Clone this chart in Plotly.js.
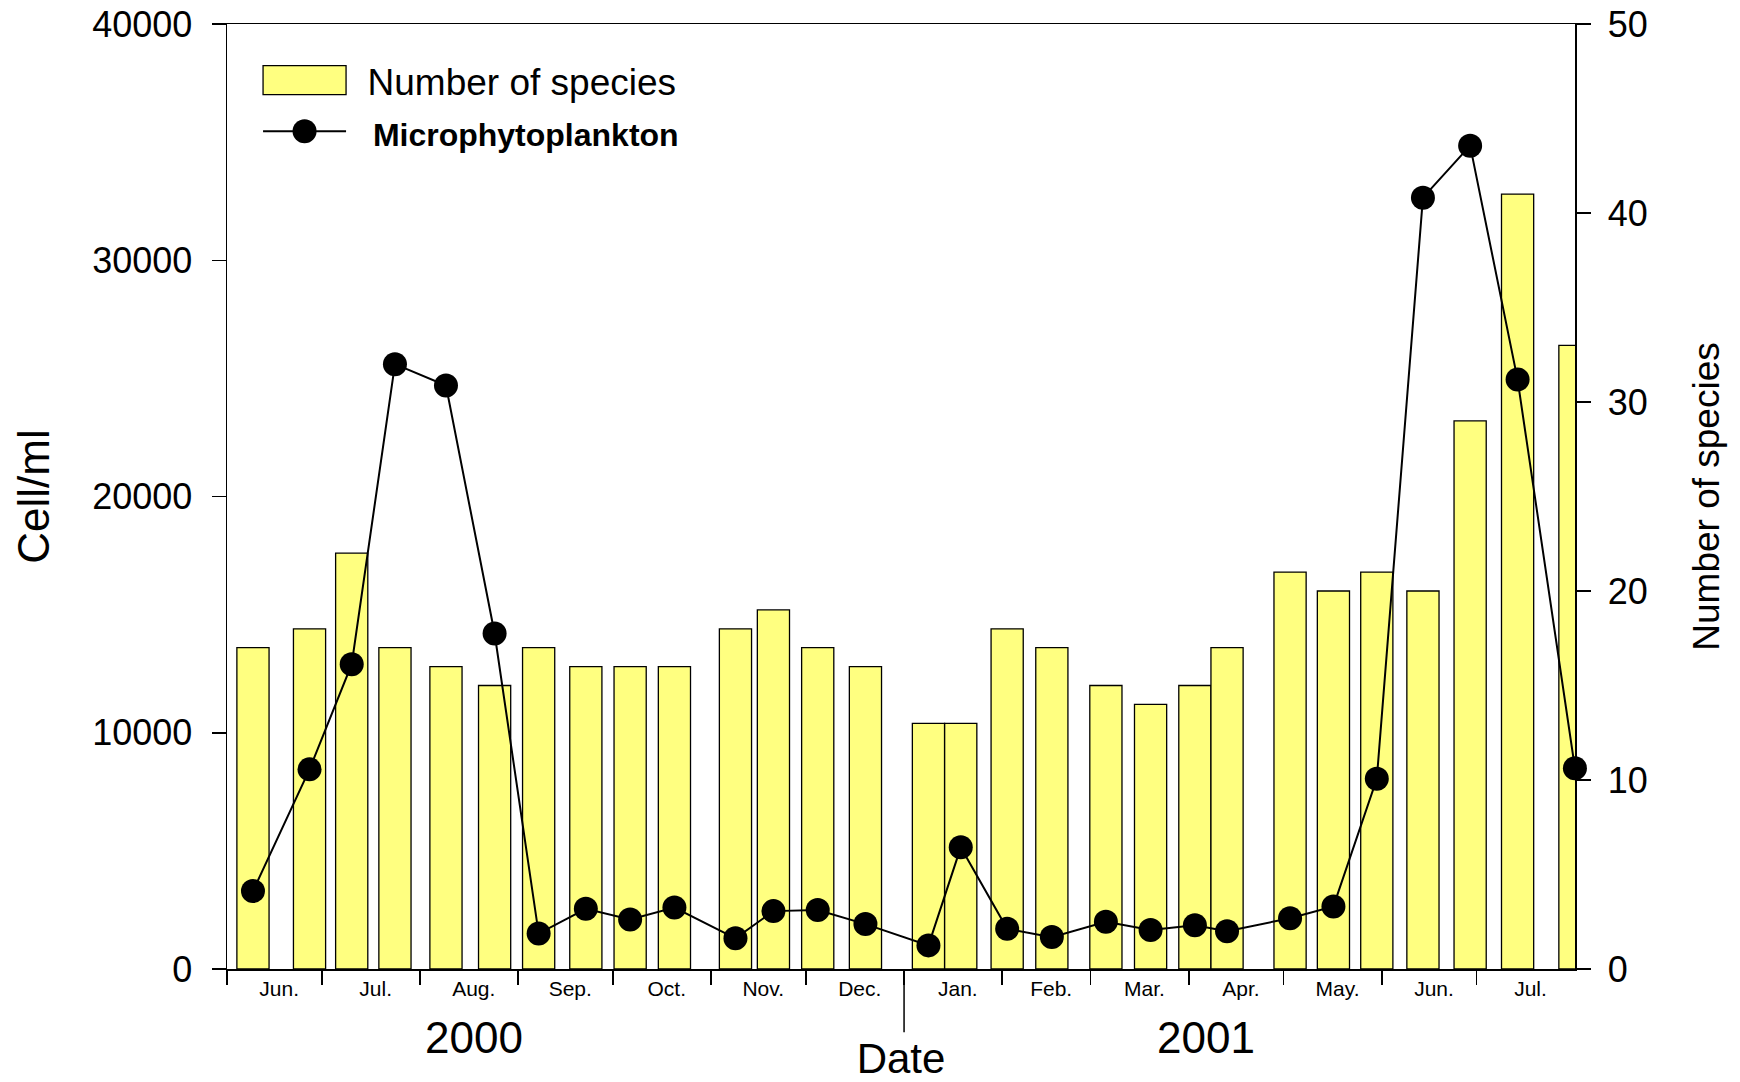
<!DOCTYPE html>
<html>
<head>
<meta charset="utf-8">
<script src="https://cdn.plot.ly/plotly-3.0.1.min.js"></script>
<style>
  html, body { margin: 0; padding: 0; background: #fff; }
  #chart { width: 1740px; height: 1082px; }
</style>
</head>
<body>
<div id="chart"></div>
<script>
// ---- data ----
var sampleDates = [
  '2000-06-09 05:00', '2000-06-27 02:00', '2000-07-10 10:00', '2000-07-24 02:00',
  '2000-08-09 05:00', '2000-08-24 14:00', '2000-09-07 12:00', '2000-09-22 10:00',
  '2000-10-06 10:00', '2000-10-20 10:00', '2000-11-08 17:00', '2000-11-20 17:00',
  '2000-12-04 17:00', '2000-12-19 19:00', '2001-01-08 17:00', '2001-01-18 22:00',
  '2001-02-02 14:00', '2001-02-16 17:00', '2001-03-05 19:00', '2001-03-19 22:00',
  '2001-04-02 22:00', '2001-04-13 02:00', '2001-05-03 00:00', '2001-05-16 17:00',
  '2001-05-30 10:00', '2001-06-14 00:00', '2001-06-28 22:00', '2001-07-13 22:00',
  '2001-08-01 01:00'
];
var speciesCount = [17, 18, 22, 17, 16, 15, 17, 16, 16, 16, 18, 19, 17, 16, 13,
                    13, 18, 17, 15, 14, 15, 17, 21, 20, 21, 20, 29, 41, 33];
var cellsPerMl = [3300, 8450, 12900, 25600, 24700, 14200, 1500, 2550, 2100, 2600,
                  1300, 2450, 2500, 1900, 1000, 5150, 1700, 1350, 2000, 1650,
                  1850, 1600, 2150, 2650, 8050, 32650, 34850, 24950, 8500];
var monthStarts = ['2000-06-01', '2000-07-01', '2000-08-01', '2000-09-01', '2000-10-01',
                   '2000-11-01', '2000-12-01', '2001-01-01', '2001-02-01', '2001-03-01',
                   '2001-04-01', '2001-05-01', '2001-06-01', '2001-07-01', '2001-08-01'];
var monthLabels = ['Jun.', 'Jul.', 'Aug.', 'Sep.', 'Oct.', 'Nov.', 'Dec.',
                   'Jan.', 'Feb.', 'Mar.', 'Apr.', 'May.', 'Jun.', 'Jul.'];
var yearLabels = ['2000', '2001'];
var speciesTicks = [0, 10, 20, 30, 40, 50];
var cellTicks = [0, 10000, 20000, 30000, 40000];
var xRange = ['2000-06-01', '2001-08-01 01:30'];

// ---- helpers ----
var DAY = 86400000;
function toMs(s) { return new Date(s.replace(' ', 'T') + (s.length > 10 ? ':00Z' : 'T00:00:00Z')).getTime(); }
function fmt(ms) { return new Date(ms).toISOString().slice(0, 19).replace('T', ' '); }
var labelVals = monthLabels.map(function (_, i) {
  var a = toMs(monthStarts[i]), b = toMs(monthStarts[i + 1]);
  return fmt((a + b) / 2 + 1.5 * DAY);
});

var FONT = 'Liberation Sans, Arial, Helvetica, sans-serif';
var MARKER_SIZE = 24;

var bars = {
  type: 'bar',
  name: 'Number of species',
  x: sampleDates,
  y: speciesCount,
  width: 10.17 * DAY,
  yaxis: 'y',
  marker: { color: 'rgb(255,255,128)', line: { color: '#000', width: 1.3 } },
  hoverinfo: 'x+y'
};
var line = {
  type: 'scatter',
  mode: 'lines+markers',
  name: '<span style="font-size:32px"><b>&#8198;Microphytoplankton</b></span>',
  x: sampleDates,
  y: cellsPerMl,
  yaxis: 'y2',
  line: { color: '#000', width: 2 },
  marker: { color: '#000', size: MARKER_SIZE },
  cliponaxis: false
};

var layout = {
  width: 1740,
  height: 1082,
  margin: { l: 227, r: 165, t: 24, b: 113 },
  paper_bgcolor: '#fff',
  plot_bgcolor: '#fff',
  font: { family: FONT, color: '#000', size: 36 },
  showlegend: true,
  legend: {
    x: 0.0108, y: 0.973, xanchor: 'left', yanchor: 'top',
    bgcolor: 'rgba(0,0,0,0)', borderwidth: 0,
    font: { family: FONT, size: 37, color: '#000' },
    itemwidth: 116,
    tracegroupgap: 0
  },
  xaxis: {
    type: 'date',
    range: xRange,
    tickmode: 'array',
    tickvals: labelVals,
    ticktext: monthLabels,
    ticks: '',
    tickfont: { family: FONT, size: 21 },
    showgrid: false,
    zeroline: false,
    showline: true,
    linecolor: '#000',
    linewidth: 1.5,
    mirror: true,
    minor: {
      tickmode: 'array',
      tickvals: monthStarts.slice(0, 14),
      ticks: 'outside',
      ticklen: 14,
      tickwidth: 1.5,
      tickcolor: '#000',
      showgrid: false
    },
    title: { text: 'Date', font: { family: FONT, size: 42 }, standoff: 49 },
    automargin: false
  },
  yaxis: {
    side: 'right',
    anchor: 'x',
    range: [0, 50],
    tickmode: 'array',
    tickvals: speciesTicks,
    ticks: 'outside',
    ticklen: 14,
    tickwidth: 1.5,
    tickcolor: '#000',
    tickfont: { family: FONT, size: 36 },
    ticklabelstandoff: 10,
    showgrid: false,
    zeroline: false,
    showline: true,
    linecolor: '#000',
    linewidth: 1.5,
    title: { text: 'Number of species', font: { family: FONT, size: 37 }, standoff: 46 },
    automargin: false
  },
  yaxis2: {
    overlaying: 'y',
    side: 'left',
    anchor: 'x',
    range: [0, 40000],
    tickmode: 'array',
    tickvals: cellTicks,
    tickformat: 'd',
    ticks: 'outside',
    ticklen: 14,
    tickwidth: 1.5,
    tickcolor: '#000',
    tickfont: { family: FONT, size: 36 },
    ticklabelstandoff: 12,
    showgrid: false,
    zeroline: false,
    showline: true,
    linecolor: '#000',
    linewidth: 1.5,
    title: { text: 'Cell/ml', font: { family: FONT, size: 44 }, standoff: 29 },
    automargin: false
  },
  shapes: [{
    type: 'line', xref: 'x', yref: 'paper',
    x0: monthStarts[7], x1: monthStarts[7], y0: 0, y1: -0.067,
    line: { color: '#000', width: 1.5 }
  }],
  annotations: [
    { text: yearLabels[0], xref: 'paper', yref: 'paper', x: 0.1836, y: -0.0729,
      xanchor: 'center', yanchor: 'middle', showarrow: false,
      font: { family: FONT, size: 44, color: '#000' } },
    { text: yearLabels[1], xref: 'paper', yref: 'paper', x: 0.7264, y: -0.0729,
      xanchor: 'center', yanchor: 'middle', showarrow: false,
      font: { family: FONT, size: 44, color: '#000' } }
  ]
};

function stretchLegend(gd) {
  var W = 83, H = 29, c = (116 + 10) / 2, r = MARKER_SIZE / 2;
  var traces = gd.querySelectorAll('.legend .traces');
  if (traces.length < 2) return;
  // bar swatch: wide yellow rectangle
  traces[0].querySelectorAll('.legendpoints path').forEach(function (p) {
    p.setAttribute('d', 'M' + (W / 2) + ',' + (H / 2) + 'H' + (-W / 2) + 'V' + (-H / 2) + 'H' + (W / 2) + 'Z');
  });
  // line swatch: same width as the rectangle
  traces[1].querySelectorAll('.legendlines path').forEach(function (p) {
    p.setAttribute('d', 'M' + (c - W / 2) + ',0h' + W);
  });
  // marker swatch: same size as the markers in the plot
  traces[1].querySelectorAll('.legendpoints path.scatterpts').forEach(function (p) {
    p.setAttribute('d', 'M' + r + ',0A' + r + ',' + r + ' 0 1,1 0,-' + r +
      'A' + r + ',' + r + ' 0 0,1 ' + r + ',0Z');
  });
}

Plotly.newPlot('chart', [bars, line], layout, { displayModeBar: false, staticPlot: true })
  .then(function (gd) {
    stretchLegend(gd);
    setTimeout(function () { stretchLegend(gd); }, 50);
  });
</script>
</body>
</html>
